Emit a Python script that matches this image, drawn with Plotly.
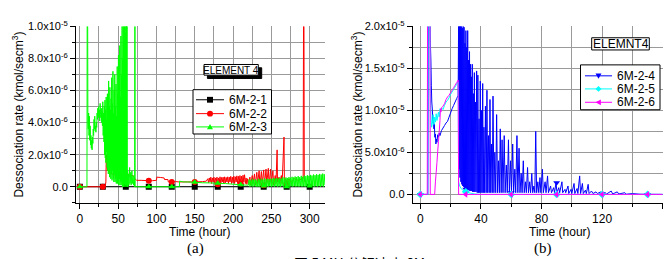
import plotly.graph_objects as go

# ---------------- DATA (values in units of 1e-6 kmol/sec m3) ----------------
UNIT = 1e-6

# (a) ELEMENT 4
s21 = [(0, 0), (320, 0)]
s21_mk = [(0, 0), (30, 0), (60, 0), (90, 0), (120, 0), (150, 0), (180, 0), (210, 0), (240, 0), (270, 0), (300, 0)]

s22 = [(0, 0), (33, 0), (34, 0.3), (34.5, 1.9), (35, 2.0), (35.5, 1.2), (36, 1.0), (37, 1.1), (38, 0.9), (40, 0.85),
       (42, 0.8), (45, 0.75), (48, 0.7), (50, 0.72), (55, 0.72), (58, 0.65), (60, 0.7), (63, 0.6), (66, 0.72),
       (70, 0.68), (72, 0.5), (74, 0.4), (80, 0.4), (90, 0.38), (95, 0.38), (100, 0.4), (100.5, 0.6), (105, 0.58),
       (110, 0.55), (110.5, 0.45), (115, 0.45), (115.5, 0.3), (120, 0.3), (125, 0.32), (130, 0.3), (140, 0.3),
       (150, 0.3), (160, 0.32), (165, 0.35), (167, 0.5),
       (168, 0.25), (169, 0.55), (170, 0.3), (171, 0.6), (172, 0.2), (173, 0.55), (174, 0.3), (175, 0.6), (176, 0.2),
       (177, 0.55), (178, 0.3), (179, 0.6), (180, 0.15), (181, 0.55), (182, 0.3), (183, 0.62), (184, 0.2),
       (185, 0.58), (186, 0.3), (187, 0.6), (188, 0.2), (189, 0.62), (190, 0.25), (191, 0.58), (192, 0.3),
       (193, 0.62), (194, 0.2), (195, 0.6), (196, 0.3), (197, 0.65), (198, 0.2), (199, 0.6), (200, 0.25),
       (201, 0.66), (202, 0.2), (203, 0.62), (204, 0.3), (205, 0.68), (206, 0.2), (207, 0.65), (208, 0.25),
       (209, 0.7), (210, 0.2), (211, 0.66), (212, 0.2), (213, 0.72), (214, 0.3), (215, 0.75), (216, 0.2),
       (217, 0.55), (218, 0.15), (219, 0.5), (220, 0.2), (222, 0.6), (223, 0.1), (225, 0.7), (226, 0.2), (228, 0.8),
       (229, 0.1), (231, 0.9), (232, 0.2), (234, 1.0), (235, 0.1), (237, 0.95), (238, 0.2), (240, 1.05), (241, 0.1),
       (243, 1.1), (244, 0.2), (246, 1.15), (247, 0.1), (249, 1.1), (250, 0.2), (252, 1.0), (253, 0.1), (255, 0.7),
       (256, 0.2), (257.5, 2.3), (258, 0.3), (260, 0.6), (261, 0.2), (263, 0.7), (264, 0.2), (266.5, 3.1),
       (267, 0.3), (269, 0.5), (270, 0.2), (273, 0.5), (275, 0.3), (280, 0.5), (285, 0.4), (290, 0.5),
       (291.5, 0.5), (292, 11), (292.5, 11), (293, 0.3)]
s22_mk = [(0, 0), (30, 0), (60, 0.7), (90, 0.38), (120, 0.3), (150, 0.3), (180, 0.15), (210, 0.2), (240, 0.1), (270, 0.2)]

s23 = [(0, 0), (9.3, 0), (9.6, 11), (10.2, 11), (10.5, 4.0), (11, 3.6), (11.5, 4.6), (12, 3.2), (12.5, 4.4),
       (13, 2.9), (13.5, 3.8), (14, 2.6), (14.5, 3.2), (15, 2.4), (15.5, 2.9), (16, 2.3), (16.5, 3.1), (17, 2.7),
       (17.5, 3.6), (18, 3.2), (18.5, 4.2), (19, 3.6), (19.5, 4.4), (20, 3.5), (20.5, 3.8), (21, 3.4), (21.5, 4.0),
       (22, 3.7), (22.5, 4.6), (23, 4.2), (23.5, 4.9), (24, 4.4), (24.5, 5.0), (25, 4.3), (25.5, 4.8), (26, 4.1),
       (26.5, 5.2), (27, 4.5), (27.5, 4.3), (28, 4.9), (28.5, 4.0), (29, 4.7), (29.5, 3.8), (30, 5.3), (30.5, 3.2),
       (31, 4.6), (31.5, 2.8),
       (32.0, 5.0), (32.4, 2.0), (32.8, 5.4), (33.2, 1.8), (33.6, 4.8), (34.0, 1.5), (34.4, 5.6), (34.8, 2.2),
       (35.2, 4.2), (35.6, 1.2), (36.0, 5.8), (36.4, 1.0), (36.8, 4.5), (37.2, 0.8), (37.6, 6.6), (38.0, 1.5),
       (38.4, 5.0), (38.8, 0.6), (39.2, 6.2), (39.6, 1.2), (40.0, 4.8), (40.4, 0.5), (40.8, 5.5), (41.2, 0.8),
       (41.6, 6.8), (42.0, 0.4), (42.4, 5.2), (42.8, 1.0), (43.2, 7.2), (43.6, 0.5), (44.0, 4.6), (44.4, 0.3),
       (44.8, 6.0), (45.2, 0.8), (45.6, 7.0), (46.0, 0.3), (46.4, 5.0), (46.8, 0.5), (47.2, 6.4), (47.6, 0.2),
       (48.0, 4.4), (48.4, 0.6), (48.8, 7.5), (49.2, 0.2), (49.6, 5.8), (50.0, 0.4), (50.4, 8.2), (50.8, 0.1),
       (51.2, 6.2), (51.6, 0.5), (52.0, 8.8), (52.4, 0.1), (52.8, 5.6), (53.2, 0.3), (53.6, 9.4), (54.0, 0.1),
       (54.4, 7.0), (54.8, 0.4), (55.2, 10.5), (55.6, 0.0), (56.0, 8.0), (56.4, 0.3), (56.8, 11), (57.2, 0.0),
       (57.6, 9.0), (58.0, 0.2), (58.4, 11), (58.8, 0.0), (59.2, 9.6), (59.6, 0.1), (60.0, 11), (60.4, 0.0),
       (60.8, 10.2), (61.2, 0.1), (61.6, 11), (62.0, 0.0), (62.4, 1.0), (62.8, 0.0), (63.5, 0.8), (64.0, 0.1),
       (65.0, 1.2), (65.5, 0.2), (66.5, 0.9), (67.0, 0.1), (68.0, 1.0), (68.5, 0.2), (69.5, 0.7), (70.0, 0.1),
       (71.0, 0.6), (71.5, 0.0), (71.8, 11), (72.0, 11), (72.2, 0.0), (90, 0.0), (130, 0.0),
       (130.2, 0.35), (135, 0.3), (140, 0.3), (150, 0.28), (160, 0.25), (170, 0.24), (180, 0.22), (190, 0.2),
       (200, 0.16), (210, 0.12), (218, 0.1),
       (220, 0.1), (221, 0.45), (222, 0.0), (223, 0.4), (224, 0.05), (225, 0.5), (226, 0.0), (227, 0.42),
       (228, 0.05), (229, 0.48), (230, 0.0), (231, 0.4), (232, 0.02), (233, 0.5), (234, 0.0), (235, 0.45),
       (236, 0.05), (237, 0.5), (238, 0.0), (239, 0.44), (240, 0.05), (241, 0.52), (242, 0.0), (243, 0.46),
       (244, 0.03), (245, 0.5), (246, 0.0), (247, 0.48), (248, 0.05), (249, 0.5), (250, 0.0), (251, 0.5),
       (252, 0.04), (253, 0.55), (254, 0.0), (255, 0.5), (256, 0.05), (257, 0.55), (258, 0.0), (259, 0.5),
       (260, 0.03), (261, 0.56), (262, 0.0), (263, 0.5), (264, 0.05), (265, 0.6), (266, 0.0), (267, 0.52),
       (268, 0.04), (269, 0.58), (270, 0.0), (271, 0.55), (272, 0.05), (273, 0.6), (274, 0.0), (275, 0.56),
       (276, 0.04), (277, 0.62), (278, 0.0), (279, 0.58), (280, 0.05), (281, 0.64), (282, 0.0), (283, 0.6),
       (284, 0.04), (285, 0.66), (286, 0.0), (287, 0.6), (288, 0.05), (289, 0.68), (290, 0.0), (291, 0.62),
       (292, 0.04), (293, 0.7), (294, 0.0), (295, 0.66), (296, 0.05), (297, 0.72), (298, 0.0), (299, 0.68),
       (300, 0.05), (301, 0.74), (302, 0.0), (303, 0.7), (304, 0.05), (305, 0.76), (306, 0.0), (307, 0.72),
       (308, 0.05), (309, 0.78), (310, 0.0), (311, 0.74), (312, 0.05), (313, 0.8), (314, 0.0), (315, 0.76),
       (316, 0.05), (317, 0.82), (318, 0.0), (319, 0.78), (320, 0.1)]
s23_mk = [(0, 0), (90, 0), (120, 0), (150, 0.28), (180, 0.22), (210, 0.12), (240, 0.05), (270, 0.0), (300, 0.05)]

# (b) ELEMNT4
s24 = [(0, 0), (5.0, 0), (5.3, 21), (6.4, 21), (6.6, 18.5), (7, 16), (7.3, 13), (7.6, 11), (8, 10), (8.3, 8.5),
       (8.6, 9.2), (9, 7.8), (9.3, 8.4), (9.6, 6.8), (10, 7.2), (10.3, 6.0), (10.6, 6.6), (11, 6.2), (11.5, 7.1),
       (12, 6.8), (12.5, 7.3), (13, 7.0), (14, 7.6), (15, 7.9), (16, 8.2), (17, 8.5), (18, 8.7), (19, 9.2),
       (20, 9.7), (21, 10.2), (22, 10.6), (23, 11.0), (24, 11.4), (25, 11.8),
       (25.3, 21), (25.6, 3), (25.9, 21), (26.2, 2), (26.5, 21), (26.8, 1.5), (27.1, 21), (27.4, 1.2), (27.7, 19.8),
       (28.0, 1), (28.3, 21), (28.6, 0.9), (28.9, 19.9), (29.2, 0.8), (29.5, 18), (29.8, 0.7), (30.1, 19.5),
       (30.4, 0.6), (30.7, 17.5), (31.0, 0.6), (31.3, 19.5), (31.6, 0.5), (31.9, 16), (32.2, 0.5), (32.5, 17),
       (32.8, 0.4), (33.1, 15.5), (33.4, 0.4), (33.7, 14), (34.0, 0.4), (34.3, 15.5), (34.6, 0.3), (35.0, 12),
       (35.3, 0.3), (35.7, 14.5), (36.0, 0.3), (36.4, 11), (36.8, 0.3), (37.2, 14.7), (37.6, 0.2), (38.0, 14.2),
       (38.4, 0.2), (38.8, 9), (39.2, 0.2), (39.6, 13.5), (40.0, 0.2), (40.4, 10), (40.8, 0.2), (41.2, 13.2),
       (41.6, 0.2), (42.0, 8), (42.5, 0.2), (43.0, 10.5), (43.5, 0.2), (44.0, 12.4), (44.5, 0.2), (45.0, 7),
       (45.5, 0.2), (46.0, 11.3), (46.5, 0.2), (47.0, 6), (47.5, 0.2), (48.0, 11.7), (48.6, 0.2), (49.2, 5),
       (49.8, 0.2), (50.4, 9.5), (51.0, 0.2), (51.6, 4), (52.2, 0.2), (52.8, 7.8), (53.4, 0.2), (54.0, 6.5),
       (54.6, 0.2), (55.4, 7.0), (56.0, 0.2), (56.8, 3.5), (57.4, 0.2), (58.2, 6.5), (58.8, 0.2), (59.6, 4),
       (60.2, 0.2), (61.0, 6.0), (61.6, 0.2), (62.4, 3), (63.0, 0.2), (63.8, 7.0), (64.4, 0.2), (65.2, 5.5),
       (65.8, 0.2), (66.6, 2.5), (67.2, 0.2), (68.0, 4), (68.6, 0.2), (69.4, 1.5), (70.0, 0.2), (70.8, 3.2),
       (71.4, 0.2), (72.2, 1.5), (72.8, 0.2), (73.6, 2.5), (74.2, 0.2), (75.0, 1.0), (75.6, 0.2), (76.2, 7.5),
       (76.8, 0.2), (77.6, 1.5), (78.2, 0.2), (79.0, 2.0), (79.6, 0.2), (80.6, 3.0), (81.2, 0.2), (82.4, 1.5),
       (83.0, 0.2), (84.0, 2.2), (84.6, 0.2), (86.0, 1.0), (86.6, 0.2), (88.0, 0.8), (88.6, 0.2), (89.6, 1.4),
       (90.2, 0.2), (91.4, 0.8), (92.0, 0.2), (93.5, 1.5), (94.0, 0.2), (95.5, 0.6), (96.0, 0.2), (97.5, 1.0),
       (98.0, 0.1), (99.5, 0.6), (100.0, 0.1), (101.5, 1.3), (102.0, 0.1), (103.5, 0.7), (104.0, 0.1),
       (105.2, 2.2), (105.8, 0.1), (107.0, 1.3), (107.6, 0.1), (109.0, 0.5), (109.6, 0.1), (110.8, 1.2),
       (111.4, 0.1), (113.0, 0.4), (114.0, 0.1), (116.0, 0.3), (117.0, 0.1), (119.0, 0.3), (120.0, 0.05),
       (122, 0.2), (123, 0.05), (126, 0.4), (127, 0.05), (130, 0.3), (131, 0.05), (135, 0.2), (136, 0.02),
       (140, 0.1), (145, 0.02), (160, 0.0)]
s24_mk = [(0, 0), (30, 0.6), (60, 0.2), (90, 1.4), (120, 0.05), (150, 0.0)]

s25 = [(0, 0), (4.9, 0), (5.1, 21), (6.4, 21), (6.6, 12), (7, 9.5), (7.5, 8), (8, 8.5), (8.5, 9.5), (9, 8.3),
       (9.5, 9.2), (10, 8.6), (10.5, 9.6), (11, 8.8), (12, 9.8), (12.5, 9.2), (13, 10.2), (13.5, 9.9), (14, 10.3),
       (15, 10.1), (16, 10.6), (17, 11.0), (18, 11.2), (19, 11.5), (20, 11.9), (21, 12.2), (22, 12.5), (23, 12.8),
       (24, 13.1), (25, 13.4), (25.3, 1.5), (26, 1.0), (27, 0.7), (28, 0.5), (30, 0.3), (33, 0.15), (36, 0.05),
       (40, 0), (160, 0)]
s25_mk = [(0, 0), (30, 0.3), (60, 0), (90, 0), (120, 0), (150, 0)]

s26 = [(0, 0), (4.6, 0), (4.8, 21), (6.4, 21), (6.6, 0), (9.5, 0), (10, 1.5), (10.5, 2.6), (11, 3.8),
       (11.5, 5.1), (12, 6.3), (12.5, 7.5), (13, 8.8), (13.3, 10.2), (13.6, 9.8), (14, 10.3), (15, 10.5),
       (16, 10.8), (17, 11.3), (18, 11.6), (19, 11.8), (20, 12.1), (21, 12.4), (22, 12.7), (23, 13.0),
       (24, 13.3), (25, 13.6), (25.3, 0), (160, 0)]
s26_mk = [(0, 0), (30, 0), (60, 0), (90, 0), (120, 0), (150, 0)]

# ticks
a_xticks = [0, 50, 100, 150, 200, 250, 300]
a_yticks = [0, 2, 4, 6, 8, 10]
a_ylabels = ["0.0", "2.0x10<sup>-6</sup>", "4.0x10<sup>-6</sup>", "6.0x10<sup>-6</sup>",
             "8.0x10<sup>-6</sup>", "1.0x10<sup>-5</sup>"]
b_xticks = [0, 40, 80, 120, 160]
b_yticks = [0, 5, 10, 15, 20]
b_ylabels = ["0.0", "5.0x10<sup>-6</sup>", "1.0x10<sup>-5</sup>", "1.5x10<sup>-5</sup>", "2.0x10<sup>-5</sup>"]

# ---------------- FIGURE ----------------
W, H = 672, 259
FONT = "Liberation Sans"


def xs(p):
    return [a for a, _ in p]


def ys(p):
    return [b * UNIT for _, b in p]


def px(x):
    return x / W


def py(y):
    return 1 - y / H


fig = go.Figure()

series_a = [
    ("6M-2-1", s21, s21_mk, "#000000", "square"),
    ("6M-2-2", s22, s22_mk, "#ff0000", "circle"),
    ("6M-2-3", s23, s23_mk, "#00ff00", "triangle-up"),
]
series_b = [
    ("6M-2-4", s24, s24_mk, "#0000ff", "triangle-down"),
    ("6M-2-5", s25, s25_mk, "#00ffff", "diamond"),
    ("6M-2-6", s26, s26_mk, "#ff00ff", "triangle-left"),
]

for axes, series in (("x", series_a), ("x2", series_b)):
    yax = "y" if axes == "x" else "y2"
    for name, line, mk, col, sym in series:
        fig.add_trace(go.Scatter(x=xs(line), y=ys(line), mode="lines", xaxis=axes, yaxis=yax, name=name,
                                 line=dict(color=col, width=1, simplify=False), showlegend=False,
                                 hoverinfo="skip"))
        fig.add_trace(go.Scatter(x=xs(mk), y=ys(mk), mode="markers", xaxis=axes, yaxis=yax, name=name,
                                 marker=dict(color=col, symbol=sym, size=6), showlegend=False,
                                 hoverinfo="skip"))

grid = "#9a9a9a"
common_x = dict(showline=True, linecolor="black", linewidth=1, ticks="outside", ticklen=5, tickcolor="black",
                showgrid=True, gridcolor=grid, gridwidth=1, zeroline=False, tickfont=dict(family=FONT, size=12,
                                                                                          color="black"))
common_y = dict(showline=True, linecolor="black", linewidth=1, ticks="outside", ticklen=5, tickcolor="black",
                showgrid=True, gridcolor=grid, gridwidth=1, zeroline=False, tickfont=dict(family=FONT, size=11,
                                                                                          color="black"))

ydom = [py(201), py(19)]
fig.update_layout(
    width=W, height=H, margin=dict(l=0, r=0, t=0, b=0),
    paper_bgcolor="white", plot_bgcolor="white", showlegend=False,
    xaxis=dict(domain=[px(76), px(325)], range=[-5, 320], tickvals=a_xticks, anchor="y",
               minor=dict(dtick=25, tick0=0, showgrid=True, gridcolor=grid, ticks="outside", ticklen=3,
                          tickcolor="black"), **common_x),
    yaxis=dict(domain=ydom, range=[-1e-6, 1e-5], tickvals=[v * UNIT for v in a_yticks], ticktext=a_ylabels,
               anchor="x", minor=dict(dtick=1e-6, tick0=0, showgrid=True, gridcolor=grid, ticks="outside",
                                      ticklen=3, tickcolor="black"), **common_y),
    xaxis2=dict(domain=[px(412.7), px(662.7)], range=[-5, 160], tickvals=b_xticks, anchor="y2",
                minor=dict(dtick=20, tick0=0, showgrid=True, gridcolor=grid, ticks="outside", ticklen=3,
                           tickcolor="black"), **common_x),
    yaxis2=dict(domain=ydom, range=[-1e-6, 2e-5], tickvals=[v * UNIT for v in b_yticks], ticktext=b_ylabels,
                anchor="x2", minor=dict(dtick=2.5e-6, tick0=0, showgrid=True, gridcolor=grid, ticks="outside",
                                        ticklen=3, tickcolor="black"), **common_y),
)

shapes = []
ann = []


def rect(x0, y0, x1, y1, fill="white", line="black", lw=1):
    shapes.append(dict(type="rect", xref="paper", yref="paper", x0=px(x0), x1=px(x1), y0=py(y1), y1=py(y0),
                       fillcolor=fill, line=dict(color=line, width=lw), layer="above"))


def symbol_shape(sym, cx, cy, col, r=3.0):
    if sym == "circle":
        shapes.append(dict(type="circle", xref="paper", yref="paper", x0=px(cx - r), x1=px(cx + r),
                           y0=py(cy + r), y1=py(cy - r), fillcolor=col, line=dict(width=0), layer="above"))
        return
    if sym == "square":
        pts = [(cx - r, cy - r), (cx + r, cy - r), (cx + r, cy + r), (cx - r, cy + r)]
    elif sym == "triangle-up":
        pts = [(cx, cy - r), (cx + r, cy + r * 0.8), (cx - r, cy + r * 0.8)]
    elif sym == "triangle-down":
        pts = [(cx, cy + r), (cx + r, cy - r * 0.8), (cx - r, cy - r * 0.8)]
    elif sym == "triangle-left":
        pts = [(cx - r, cy), (cx + r * 0.8, cy - r), (cx + r * 0.8, cy + r)]
    else:  # diamond
        pts = [(cx, cy - r), (cx + r, cy), (cx, cy + r), (cx - r, cy)]
    path = "M" + " L".join(f"{px(a):.5f},{py(b):.5f}" for a, b in pts) + " Z"
    shapes.append(dict(type="path", xref="paper", yref="paper", path=path, fillcolor=col,
                       line=dict(width=0), layer="above"))


def legend(series, box, rows, lx0, lx1, tx):
    rect(*box)
    for (name, _, _, col, sym), ry in zip(series, rows):
        shapes.append(dict(type="line", xref="paper", yref="paper", x0=px(lx0), x1=px(lx1), y0=py(ry), y1=py(ry),
                           line=dict(color=col, width=1), layer="above"))
        symbol_shape(sym, (lx0 + lx1) / 2, ry, col)
        ann.append(dict(x=px(tx), y=py(ry), text=name, xanchor="left", yanchor="middle",
                        font=dict(family=FONT, size=12, color="black")))


legend(series_a, (193, 84.3, 271.5, 130), (94.7, 109.0, 122.7), 196, 224, 226.5)
legend(series_b, (580.5, 58.7, 660, 105), (70.0, 83.5, 97.3), 585, 612, 614.5)

# ELEMENT 4 label with shadow, ELEMNT4 label
rect(207.4, 61.7, 261.7, 72.7, fill="black", line="black")
rect(204, 58.3, 258.3, 69.3)
ann.append(dict(x=px(231.2), y=py(64.0), text="ELEMENT 4", font=dict(family=FONT, size=10, color="black")))
rect(591.7, 30.7, 649.3, 43.3)
ann.append(dict(x=px(620.5), y=py(37.2), text="ELEMNT4", font=dict(family=FONT, size=12, color="black")))

ytitle = "Dessociation rate (kmol/secm<sup>3</sup>)"
ann += [
    dict(x=px(18), y=py(110), text=ytitle, textangle=-90, font=dict(family=FONT, size=12, color="black")),
    dict(x=px(357), y=py(110), text=ytitle, textangle=-90, font=dict(family=FONT, size=12, color="black")),
    dict(x=px(200), y=py(231), text="Time (hour)", font=dict(family=FONT, size=12, color="black")),
    dict(x=px(560), y=py(231), text="Time (hour)", font=dict(family=FONT, size=12, color="black")),
    dict(x=px(195), y=py(248), text="(a)", font=dict(family="Liberation Serif", size=15, color="black")),
    dict(x=px(543), y=py(248), text="(b)", font=dict(family="Liberation Serif", size=15, color="black")),
    dict(x=px(292), y=py(251), xanchor="left", yanchor="top", text="図 5 MH 分解速度 6M-2",
         font=dict(family="Noto Sans CJK JP", size=14, color="black")),
]
for a in ann:
    a.setdefault("xref", "paper")
    a.setdefault("yref", "paper")
    a.setdefault("showarrow", False)
    a.setdefault("xanchor", "center")
    a.setdefault("yanchor", "middle")
fig.update_layout(annotations=ann, shapes=shapes)

fig.write_html("out.html", config={"displayModeBar": False},
               post_script="document.body.style.margin='0';document.body.style.overflow='hidden';")
